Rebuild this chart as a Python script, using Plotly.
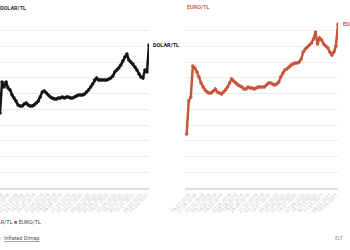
import numpy as np
import pandas as pd
import plotly.graph_objects as go

# ---- data ----
DATES = list(pd.date_range("2018-07-02", periods=75, freq="14D").strftime("%d.%m.%Y"))

DOLAR = [4.77, 6.74, 6.42, 6.74, 6.36, 6.23, 5.91, 5.72, 5.53, 5.28,
         5.21, 5.21, 5.34, 5.40, 5.28, 5.21, 5.21, 5.28, 5.40, 5.53,
         5.79, 6.10, 6.17, 6.04, 5.91, 5.79, 5.72, 5.66, 5.66, 5.72,
         5.72, 5.79, 5.72, 5.79, 5.79, 5.72, 5.72, 5.79, 5.85, 5.91,
         5.91, 5.91, 5.98, 6.10, 6.23, 6.42, 6.61, 6.87, 6.99, 6.87,
         6.87, 6.87, 6.87, 6.87, 6.93, 6.99, 7.12, 7.37, 7.50, 7.63,
         7.82, 8.07, 8.33, 8.52, 8.14, 8.01, 7.88, 7.69, 7.50, 7.25,
         7.06, 6.99, 7.50, 7.37, 9.09]

EURO = [3.43, 5.53, 5.79, 7.76, 7.63, 7.37, 7.06, 6.68, 6.42, 6.23,
        6.10, 6.04, 6.04, 6.17, 6.29, 6.10, 6.04, 5.98, 6.10, 6.23,
        6.42, 6.68, 6.93, 6.80, 6.68, 6.55, 6.48, 6.42, 6.29, 6.29,
        6.42, 6.36, 6.36, 6.29, 6.36, 6.42, 6.42, 6.42, 6.42, 6.55,
        6.68, 6.68, 6.61, 6.55, 6.61, 6.74, 7.06, 7.31, 7.50, 7.57,
        7.69, 7.82, 7.88, 7.95, 7.95, 8.01, 8.20, 8.65, 8.84, 8.96,
        9.09, 9.22, 9.47, 9.92, 9.15, 9.54, 9.41, 9.15, 9.03, 8.90,
        8.65, 8.46, 8.65, 9.03, 10.43]

SERIES_NAMES = ["DOLAR/TL", "EURO/TL"]
SOURCE_LABEL = "Kaynak:"
SOURCE_NAME = "Inflated Dimap"
CREDIT_TEXT = "ELT"

# ---- style ----
W, H = 350, 250
L, R, T, B = 0, 12, 15, 62
PW = W - L - R
PH = H - T - B
C_DOLAR = "#151515"
C_EURO = "#c8553d"
FONT = "Roboto"


def px(xp):
    return (xp - L) / PW


def py(yp):
    return (H - B - yp) / PH


tick_idx = [int(round(v)) for v in np.linspace(1, 73, 23)]
tick_vals = [DATES[i] for i in tick_idx]

fig = go.Figure()
fig.add_trace(go.Scatter(x=DATES, y=DOLAR, mode="lines+markers", name=SERIES_NAMES[0],
                         line=dict(color=C_DOLAR, width=2.5), marker=dict(size=3.5, color=C_DOLAR),
                         xaxis="x", yaxis="y"))
fig.add_trace(go.Scatter(x=DATES, y=EURO, mode="lines+markers", name=SERIES_NAMES[1],
                         line=dict(color=C_EURO, width=2.5), marker=dict(size=3.5, color=C_EURO),
                         xaxis="x2", yaxis="y2"))

xcommon = dict(type="category", showgrid=False, zeroline=False, showline=True,
               linecolor="#dddddd", linewidth=2, ticks="", tickangle=-45, automargin=False,
               tickvals=tick_vals, tickfont=dict(size=5, color="#c4c4c4", family=FONT),
               categoryorder="array", categoryarray=DATES)
ycommon = dict(range=[0, 11], dtick=1, showticklabels=False, gridcolor="#ececec",
               gridwidth=1, zeroline=False, showline=False, ticks="", automargin=False)

fig.update_layout(
    width=W, height=H, autosize=False,
    margin=dict(l=L, r=R, t=T, b=B, pad=0),
    paper_bgcolor="white", plot_bgcolor="white",
    showlegend=False,
    font=dict(family=FONT, size=6, color="#333333"),
    xaxis=dict(domain=[0, px(149)], range=[0, 74], **xcommon),
    xaxis2=dict(domain=[px(185), 1], range=[-0.83, 74], anchor="y2", **xcommon),
    yaxis=dict(domain=[0, 1], anchor="x", **ycommon),
    yaxis2=dict(domain=[0, 1], anchor="x2", **ycommon),
)

ann = []
# panel titles
ann.append(dict(xref="paper", yref="paper", x=px(-2), y=py(8), xanchor="left", yanchor="middle",
                text="<b>" + SERIES_NAMES[0] + "</b>", showarrow=False,
                font=dict(size=5.5, color="#333333", family=FONT)))
ann.append(dict(xref="paper", yref="paper", x=px(185), y=py(7.5), xanchor="left", yanchor="middle",
                text="<b>" + SERIES_NAMES[1] + "</b>", showarrow=False,
                font=dict(size=5.5, color="#d2685a", family=FONT)))
# line end labels
ann.append(dict(xref="x", yref="y", x=DATES[-1], y=DOLAR[-1], xanchor="left", yanchor="middle",
                xshift=2, text="<b>" + SERIES_NAMES[0] + "</b>", showarrow=False,
                font=dict(size=5.5, color="#151515", family=FONT)))
ann.append(dict(xref="x2", yref="y2", x=DATES[-1], y=EURO[-1], xanchor="left", yanchor="middle",
                xshift=3, text="<b>" + SERIES_NAMES[1] + "</b>", showarrow=False,
                font=dict(size=5.5, color=C_EURO, family=FONT)))
# legend (one line, partly off the left edge as in the reference)
legend_text = '<span style="color:%s">■</span> %s <span style="color:%s">■</span> %s' % (
    C_DOLAR, SERIES_NAMES[0], C_EURO, SERIES_NAMES[1])
ann.append(dict(xref="paper", yref="paper", x=px(-19), y=py(222), xanchor="left", yanchor="middle",
                borderpad=0, text=legend_text, showarrow=False,
                font=dict(size=5.5, color="#444444", family=FONT)))
# source
ann.append(dict(xref="paper", yref="paper", x=px(3), y=py(238), xanchor="right", yanchor="middle",
                text=SOURCE_LABEL, showarrow=False,
                font=dict(size=5.5, color="#555555", family=FONT)))
ann.append(dict(xref="paper", yref="paper", x=px(1.5), y=py(238), xanchor="left", yanchor="middle",
                text="<u>" + SOURCE_NAME + "</u>", showarrow=False,
                font=dict(size=5.5, color="#555555", family=FONT)))
ann.append(dict(xref="paper", yref="paper", x=px(333), y=py(238), xanchor="left", yanchor="middle",
                text=CREDIT_TEXT, showarrow=False,
                font=dict(size=5, color="#7f9bbd", family=FONT)))
fig.update_layout(annotations=ann)

fig.write_html("out.html")
